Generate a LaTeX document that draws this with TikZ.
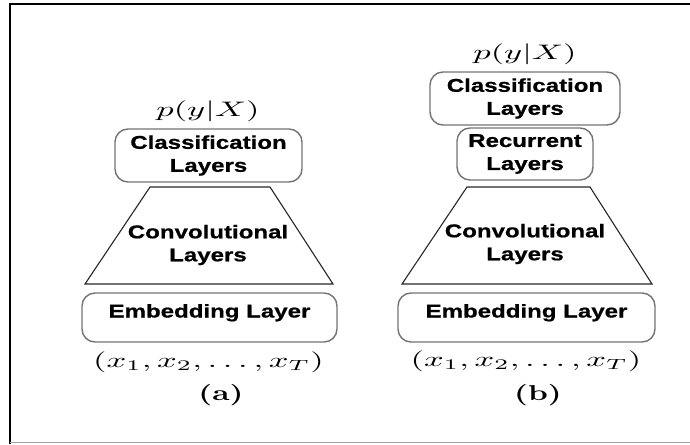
\documentclass[tikz,border=0pt]{standalone}
\usepackage{amsmath}
\usepackage{fontspec}
\usepackage{tikz}
\newfontfamily\layerfont[FakeStretch=1.3, FakeBold=0.8]{Liberation Sans}
\newcommand{\widemath}[1]{\scalebox{3.45}[2.1]{$#1$}}
\newcommand{\panel}[1]{\scalebox{3.1}[2.15]{\textbf{(#1)}}}

\begin{document}
\begin{tikzpicture}[x=1pt, y=-1pt]
  % Style definitions
  \tikzstyle{layer} = [rectangle, draw=black!55, line width=1.4pt, rounded corners=13pt, align=center, inner sep=0pt, font=\layerfont\bfseries\fontsize{18.5}{23}\selectfont]
  \tikzstyle{conv} = [draw=black!85, line width=1.1pt, line join=miter]
  \tikzstyle{convtext} = [align=center, inner sep=0pt, font=\layerfont\bfseries\fontsize{18.5}{23}\selectfont]
  \tikzstyle{formula} = [inner sep=0pt]

  \useasboundingbox (0,0) rectangle (690,444);

  % Frame
  \draw[black, line width=2.5pt, line join=miter] (10,444) -- (10,4) -- (690,4);
  \draw[black!35, line width=1.5pt] (10,442.5) -- (690,442.5);

  % (a) CNN
  \node (outa) [formula] at (208,111) {\widemath{p(y|X)}};
  \node (clsa) [layer, minimum width=187pt, minimum height=53pt] at (208.5,155.5) {Classification\\Layers};
  \draw[conv] (150,187) -- (270,187) -- (333,284) -- (85,284) -- cycle;
  \node (cnna) [convtext] at (208,245) {Convolutional\\Layers};
  \node (emba) [layer, minimum width=255pt, minimum height=49pt, text height=14pt, text depth=14pt] at (209.5,317.5) {Embedding Layer};
  \node (ina) [formula] at (208.5,362) {\widemath{(x_1, x_2, \ldots, x_T)}};
  \node (capa) [formula] at (221,395) {\panel{a}};

  % (b) CNN + RNN
  \node (outb) [formula] at (525,54) {\widemath{p(y|X)}};
  \node (clsb) [layer, minimum width=190pt, minimum height=53pt] at (525,98.5) {Classification\\Layers};
  \node (recb) [layer, minimum width=136pt, minimum height=52pt] at (525,154) {Recurrent\\Layers};
  \draw[conv] (467,187) -- (590,187) -- (652,284) -- (402,284) -- cycle;
  \node (cnnb) [convtext] at (525,244) {Convolutional\\Layers};
  \node (embb) [layer, minimum width=257pt, minimum height=49pt, text height=14pt, text depth=14pt] at (526.5,317.5) {Embedding Layer};
  \node (inb) [formula] at (526,361.5) {\widemath{(x_1, x_2, \ldots, x_T)}};
  \node (capb) [formula] at (538,395) {\panel{b}};
\end{tikzpicture}
\end{document}
